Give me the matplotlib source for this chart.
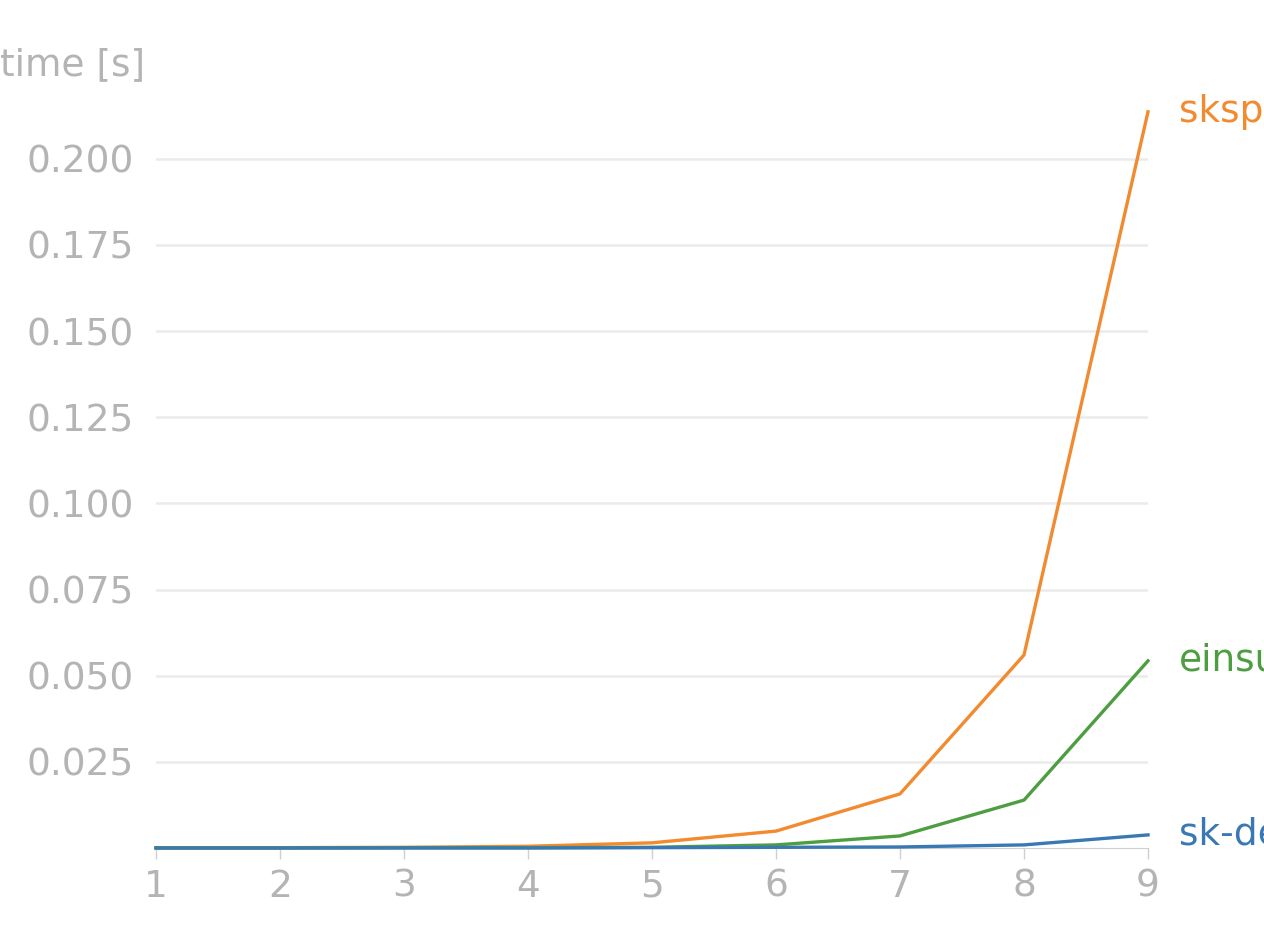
import numpy as np
from matplotlib import pyplot as plt

n = [1, 2, 3, 4, 5, 6, 7, 8, 9]
names = ['skspatial', 'einsum', 'sk-dense']
t_sksp = [0.0001, 0.0001, 0.0002, 0.0005, 0.0015, 0.0049, 0.0157, 0.0560, 0.2136]
t_einsum = [0.0000, 0.0000, 0.0001, 0.0001, 0.0002, 0.0009, 0.0035, 0.0139, 0.0543]
t_dense = [0.0000, 0.0000, 0.0000, 0.0000, 0.0001, 0.0002, 0.0003, 0.0009, 0.0038]
yticks = [0.025, 0.050, 0.075, 0.100, 0.125, 0.150, 0.175, 0.200]

colors = ['#f28a30', '#4c9e40', '#3a78b4']
gray = '#b4b4b4'
fs = 27

fig = plt.figure(figsize=(12.64, 9.46), dpi=100)
ax = fig.add_axes([156/1264, 1 - 848/946, (1148 - 156)/1264, (848 - 107)/946])

for vals, name, c in zip([t_sksp, t_einsum, t_dense], names, colors):
    ax.plot(n, vals, color=c, lw=2.4, clip_on=False, zorder=3)
    ax.annotate(name, xy=(n[-1], vals[-1]), xytext=(22, 0), textcoords='offset points',
                color=c, fontsize=fs, va='center', ha='left', annotation_clip=False)

ax.set_xlim(1, 9)
ax.set_ylim(0, 0.215)
ax.set_xticks(n)
ax.set_yticks(yticks)
ax.set_yticklabels([f'{v:.3f}' for v in yticks])
ax.grid(axis='y', color='#ebebeb', lw=1.8)
ax.set_axisbelow(True)

for s in ['top', 'right', 'left']:
    ax.spines[s].set_visible(False)
ax.spines['bottom'].set_color('#d0d0d0')
ax.tick_params(axis='y', length=0, pad=16, labelsize=fs, labelcolor=gray)
ax.tick_params(axis='x', length=8, width=1, color='#d0d0d0', pad=7, labelsize=fs, labelcolor=gray)

fig.text(145/1264, 1 - 65/946, 'time [s]', ha='right', va='center', fontsize=fs, color=gray)

fig.savefig('out.png', dpi=100)
